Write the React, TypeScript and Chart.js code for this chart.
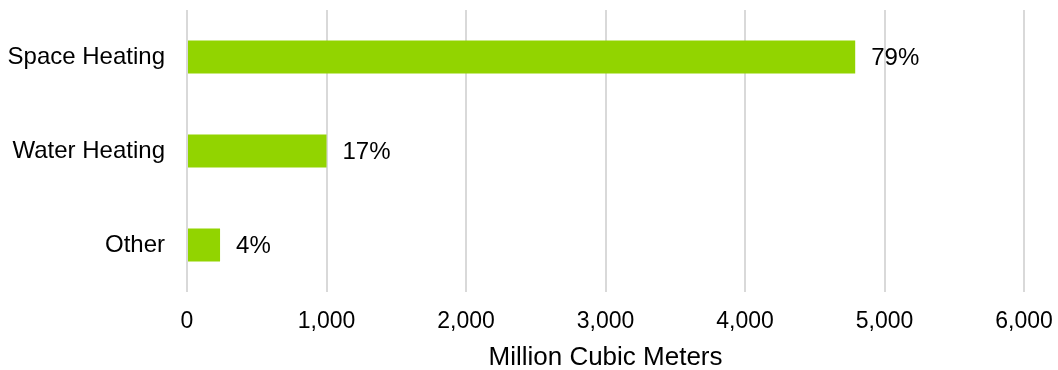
import React, { useEffect, useRef } from "react";
import { Chart, registerables } from "chart.js";

Chart.register(...registerables);

const categories = ["Space Heating", "Water Heating", "Other"];
const values = [4790, 1000, 237];
const percentLabels = ["79%", "17%", "4%"];
const xTicks = [0, 1000, 2000, 3000, 4000, 5000, 6000];

const FONT = "'Liberation Sans', Arial, sans-serif";

const valueLabelPlugin = {
  id: "valueLabels",
  afterDatasetsDraw(chart: any) {
    const ctx = chart.ctx;
    const meta = chart.getDatasetMeta(0);
    ctx.save();
    ctx.font = `24px ${FONT}`;
    ctx.fillStyle = "#000000";
    ctx.textAlign = "left";
    ctx.textBaseline = "middle";
    meta.data.forEach((bar: any, i: number) => {
      ctx.fillText(percentLabels[i], bar.x + 16, bar.y + 1);
    });
    ctx.restore();
  },
};

export default function App() {
  const canvasRef = useRef<HTMLCanvasElement | null>(null);

  useEffect(() => {
    document.body.style.margin = "0";
    const chart = new Chart(canvasRef.current as HTMLCanvasElement, {
      type: "bar",
      data: {
        labels: categories,
        datasets: [
          {
            data: values,
            backgroundColor: "#92d400",
            barPercentage: 0.35,
            categoryPercentage: 1,
          },
        ],
      },
      plugins: [valueLabelPlugin],
      options: {
        indexAxis: "y",
        animation: false,
        responsive: false,
        maintainAspectRatio: false,
        layout: { padding: { top: 10, right: 34, left: 0, bottom: 0 } },
        plugins: {
          legend: { display: false },
          tooltip: { enabled: false },
        },
        scales: {
          x: {
            min: 0,
            max: 6000,
            afterBuildTicks(scale: any) {
              scale.ticks = xTicks.map((v) => ({ value: v }));
            },
            afterFit(scale: any) {
              scale.height = 78;
              scale.paddingLeft = 0;
              scale.paddingRight = 0;
            },
            border: { display: false },
            grid: {
              color: "#d9d9d9",
              lineWidth: 2,
              drawTicks: false,
            },
            ticks: {
              padding: 16,
              color: "#000000",
              font: { family: FONT, size: 23 },
              callback: (v: any) => Number(v).toLocaleString("en-US"),
            },
            title: {
              display: true,
              text: "Million Cubic Meters",
              color: "#000000",
              font: { family: FONT, size: 26 },
              padding: { top: 4, bottom: -3 },
            },
          },
          y: {
            afterFit(scale: any) {
              scale.width = 187;
              scale.paddingTop = 0;
              scale.paddingBottom = 0;
            },
            border: { display: false },
            grid: { display: false, drawTicks: false },
            ticks: {
              padding: 22,
              color: "#000000",
              font: { family: FONT, size: 24 },
            },
          },
        },
      },
    });
    return () => chart.destroy();
  }, []);

  return (
    <div style={{ width: 1058, height: 370, position: "relative" }}>
      <canvas ref={canvasRef} width={1058} height={370} />
    </div>
  );
}
